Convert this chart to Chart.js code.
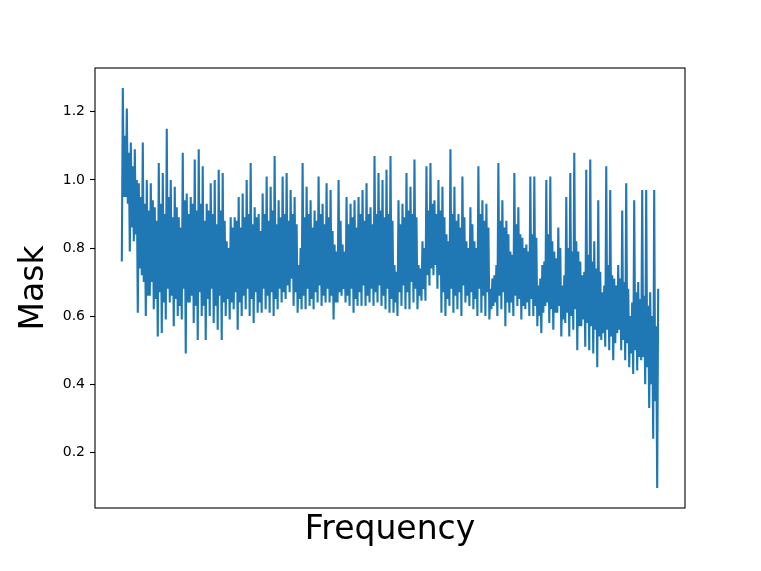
<!DOCTYPE html>
<html>
<head>
<meta charset="utf-8">
<script src="https://cdn.jsdelivr.net/npm/chart.js@4.4.1/dist/chart.umd.min.js"></script>
<style>
  html, body { margin: 0; padding: 0; background: #fff; }
  #maskChart { display: block; }
</style>
</head>
<body>
<canvas id="maskChart" width="761" height="571"></canvas>
<script>
/* ===============================
   DATA (left to right, ~1 value per pixel)
================================ */
const maskPart1 = [
  0.76, 1.27, 0.95, 1.13,  0.95, 1.21, 0.93, 1.08,  0.79, 1.11, 0.86, 1.04,
  0.82, 1.09, 0.84, 1.00,  0.61, 0.99, 0.74, 0.95,  0.72, 1.11, 0.70, 0.93,
  0.60, 1.00, 0.66, 0.91,  0.66, 0.99, 0.70, 0.94,  0.62, 0.92, 0.65, 0.88,
  0.54, 1.05, 0.67, 0.93,  0.55, 1.02, 0.64, 0.90,  0.59, 1.15, 0.68, 0.95,
  0.64, 1.00, 0.66, 0.89,  0.57, 0.98, 0.65, 0.92,  0.60, 0.89, 0.63, 0.86,
  0.59, 1.08, 0.68, 0.94,  0.49, 0.96, 0.64, 0.90,  0.64, 0.95, 0.66, 0.93,
  0.58, 1.06, 0.63, 0.91,  0.53, 1.09, 0.67, 0.93,  0.60, 1.04, 0.63, 0.88,
  0.53, 0.93, 0.65, 0.91,  0.60, 0.99, 0.68, 0.90,  0.58, 1.00, 0.63, 0.87,
  0.56, 1.03, 0.66, 0.91,  0.53, 1.02, 0.64, 0.88,  0.60, 0.82, 0.65, 0.80
];
const maskPart2 = [
  0.59, 0.89, 0.64, 0.86,  0.62, 0.89, 0.67, 0.88,  0.56, 0.95, 0.64, 0.86,
  0.60, 0.96, 0.66, 0.89,  0.62, 1.00, 0.68, 0.90,  0.60, 1.05, 0.65, 0.87,
  0.58, 0.92, 0.67, 0.89,  0.61, 0.90, 0.64, 0.85,  0.61, 0.96, 0.68, 0.90,
  0.62, 1.01, 0.66, 0.88,  0.61, 0.98, 0.67, 0.91,  0.60, 1.07, 0.65, 0.87,
  0.62, 0.94, 0.68, 0.89,  0.64, 1.01, 0.67, 0.90,  0.65, 1.02, 0.69, 0.88,
  0.67, 0.97, 0.71, 0.90,  0.63, 0.95, 0.67, 0.87,  0.61, 0.75, 0.65, 0.80,
  0.62, 1.05, 0.66, 0.89,  0.62, 0.98, 0.68, 0.90,  0.63, 0.94, 0.65, 0.86,
  0.62, 0.91, 0.67, 0.88,  0.64, 1.01, 0.69, 0.90,  0.63, 0.93, 0.66, 0.87,
  0.64, 0.99, 0.68, 0.89,  0.64, 0.97, 0.66, 0.85,  0.59, 0.81, 0.64, 0.79
];
const maskPart3 = [
  0.64, 1.00, 0.67, 0.88,  0.66, 0.81, 0.68, 0.79,  0.64, 0.95, 0.66, 0.87,
  0.63, 0.93, 0.68, 0.89,  0.61, 0.94, 0.65, 0.86,  0.63, 0.95, 0.67, 0.90,
  0.63, 0.97, 0.69, 0.88,  0.63, 0.99, 0.66, 0.90,  0.64, 0.92, 0.68, 0.87,
  0.63, 1.07, 0.67, 0.90,  0.64, 1.02, 0.69, 0.91,  0.63, 1.00, 0.66, 0.89,
  0.62, 1.03, 0.68, 0.90,  0.61, 1.07, 0.65, 0.88,  0.61, 0.75, 0.64, 0.73,
  0.60, 0.94, 0.67, 0.87,  0.63, 0.93, 0.69, 0.89,  0.62, 1.02, 0.67, 0.91,
  0.62, 0.98, 0.70, 0.90,  0.64, 1.06, 0.68, 0.89,  0.62, 0.75, 0.66, 0.74,
  0.645, 0.82, 0.68, 0.80, 0.645, 1.04, 0.72, 0.91, 0.69, 1.05, 0.74, 0.93,
  0.72, 0.94, 0.75, 0.90,  0.68, 1.00, 0.72, 0.91,  0.61, 0.98, 0.67, 0.89
];
const maskPart4 = [
  0.60, 0.84, 0.65, 0.82,  0.63, 1.09, 0.68, 0.90,  0.61, 0.98, 0.66, 0.88,
  0.62, 0.90, 0.67, 0.86,  0.60, 1.01, 0.69, 0.89,  0.64, 0.82, 0.66, 0.80,
  0.63, 0.92, 0.67, 0.87,  0.62, 0.82, 0.65, 0.80,  0.60, 1.04, 0.68, 0.90,
  0.61, 0.94, 0.66, 0.88,  0.60, 0.93, 0.67, 0.86,  0.59, 0.68, 0.62, 0.71,
  0.63, 0.72, 0.64, 0.75,  0.60, 1.05, 0.66, 0.88,  0.62, 0.94, 0.67, 0.86,
  0.57, 0.88, 0.64, 0.84,  0.61, 0.79, 0.64, 0.78,  0.60, 1.02, 0.66, 0.87,
  0.63, 0.92, 0.65, 0.84,  0.59, 0.83, 0.63, 0.80,  0.62, 0.81, 0.64, 0.79,
  0.60, 1.01, 0.65, 0.84,  0.60, 1.01, 0.63, 0.83,  0.57, 0.69, 0.60, 0.71,
  0.55, 0.75, 0.61, 0.76,  0.63, 1.00, 0.64, 0.84,  0.58, 1.01, 0.62, 0.82
];
const maskPart5 = [
  0.56, 0.79, 0.61, 0.77,  0.61, 0.86, 0.63, 0.80,  0.54, 0.69, 0.59, 0.72,
  0.58, 0.95, 0.61, 0.80,  0.54, 1.02, 0.60, 0.79,  0.56, 1.08, 0.62, 0.82,
  0.50, 0.79, 0.57, 0.76,  0.57, 0.72, 0.59, 0.73,  0.51, 1.03, 0.58, 0.78,
  0.50, 1.06, 0.57, 0.76,  0.49, 0.82, 0.56, 0.74,  0.45, 0.94, 0.54, 0.73,
  0.53, 0.67, 0.55, 0.69,  0.51, 1.04, 0.56, 0.75,  0.50, 0.97, 0.54, 0.72,
  0.47, 0.71, 0.52, 0.69,  0.55, 0.75, 0.56, 0.71,  0.50, 0.91, 0.53, 0.70,
  0.47, 0.99, 0.52, 0.68,  0.45, 0.60, 0.49, 0.64,  0.43, 0.94, 0.50, 0.67,
  0.44, 0.70, 0.48, 0.65,  0.47, 0.97, 0.48, 0.66,  0.40, 0.97, 0.45, 0.63,
  0.33, 0.67, 0.40, 0.60,  0.24, 0.97, 0.35, 0.57,  0.095, 0.68
];
const yTicks = [0.2, 0.4, 0.6, 0.8, 1.0, 1.2];

const mask = [...maskPart1, ...maskPart2, ...maskPart3, ...maskPart4, ...maskPart5];
const points = mask.map((v, i) => ({ x: i, y: v }));

/* matplotlib style 5% margins */
const last = mask.length - 1;
const lo = Math.min(...mask);
const hi = Math.max(...mask);
const pad = (hi - lo) * 0.05;

/* ===============================
   AXES FRAME
================================ */
const framePlugin = {
  id: "frame",
  afterDraw(chart) {
    const { ctx, chartArea: a } = chart;
    ctx.save();
    ctx.strokeStyle = "#000";
    ctx.lineWidth = 1.1;
    ctx.strokeRect(a.left, a.top, a.right - a.left, a.bottom - a.top);
    ctx.restore();
  }
};

/* ===============================
   CHART
================================ */
const ctx = document.getElementById("maskChart").getContext("2d");

new Chart(ctx, {
  type: "line",
  data: {
    datasets: [
      {
        data: points,
        borderColor: "#1f77b4",
        borderWidth: 2.1,
        pointRadius: 0,
        tension: 0,
        fill: false
      }
    ]
  },
  options: {
    responsive: false,
    animation: false,
    devicePixelRatio: 1,
    layout: { padding: { top: 68, right: 76, left: 0, bottom: 0 } },
    plugins: {
      legend: { display: false },
      tooltip: { enabled: false }
    },
    scales: {
      x: {
        type: "linear",
        min: -0.05 * last,
        max: 1.05 * last,
        ticks: { display: false },
        grid: { display: false },
        border: { display: false },
        title: {
          display: true,
          text: "Frequency",
          color: "#000",
          font: { family: "DejaVu Sans", size: 33, lineHeight: 1.2 },
          padding: { top: 0, bottom: 21 }
        },
        afterFit: s => { s.height = 63; }
      },
      y: {
        min: lo - pad,
        max: hi + pad,
        afterBuildTicks: s => { s.ticks = yTicks.map(v => ({ value: v })); },
        ticks: {
          color: "#000",
          font: { family: "DejaVu Sans", size: 14 },
          padding: 5,
          callback: v => v.toFixed(1)
        },
        grid: {
          drawOnChartArea: false,
          tickLength: 5,
          tickColor: "#000",
          tickWidth: 1.1
        },
        border: { display: false },
        title: {
          display: true,
          text: "Mask",
          color: "#000",
          font: { family: "DejaVu Sans", size: 33, lineHeight: 1.2 },
          padding: { top: 15, bottom: 0 }
        },
        afterFit: s => { s.width = 95; }
      }
    }
  },
  plugins: [framePlugin]
});
</script>
</body>
</html>
